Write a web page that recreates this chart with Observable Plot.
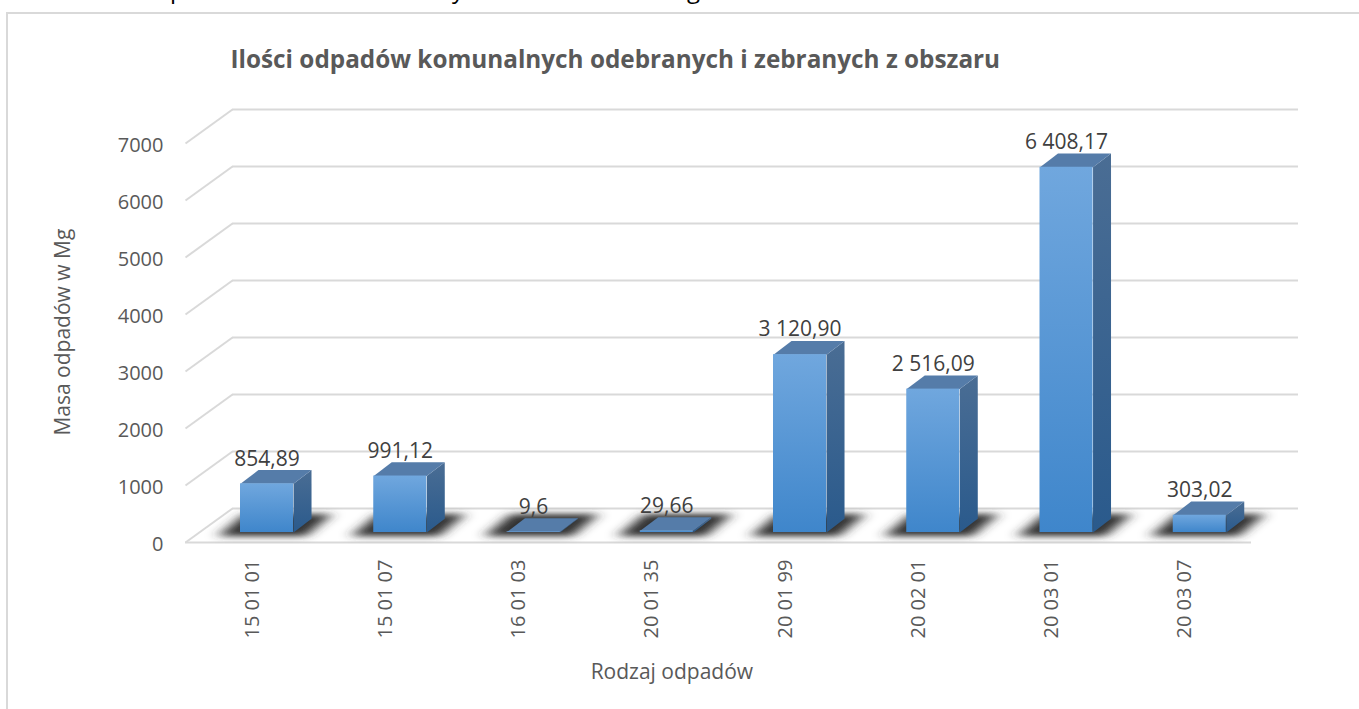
<!DOCTYPE html>
<html lang="pl"><head><meta charset="utf-8">
<script src="https://cdn.jsdelivr.net/npm/d3@7"></script>
<script src="https://cdn.jsdelivr.net/npm/@observablehq/plot@0.6"></script>
<style>
html,body{margin:0;padding:0;background:#fff;width:1359px;height:709px;overflow:hidden;position:relative}
#frame{position:absolute;left:6px;top:12px;right:0;bottom:0;border-top:2px solid #d9d9d9;border-left:2px solid #d9d9d9;pointer-events:none}
#cut{position:absolute;left:0;top:0;width:100%;height:12px;overflow:hidden;font:24px "Open Sans",sans-serif;color:#000}
#cut span{position:absolute;top:-28px}
svg{position:absolute;left:0;top:0;background:transparent}
</style></head><body><div id="chart"></div><div id="frame"></div>
<div id="cut"><span style="left:170px">p</span><span style="left:452px">y</span><span style="left:687px">g</span></div>
<script>
const categories = ["15 01 01","15 01 07","16 01 03","20 01 35","20 01 99","20 02 01","20 03 01","20 03 07"];
const values = [854.89, 991.12, 9.6, 29.66, 3120.90, 2516.09, 6408.17, 303.02];
const valueLabels = ["854,89","991,12","9,6","29,66","3 120,90","2 516,09","6 408,17","303,02"];
const yTicks = [0,1000,2000,3000,4000,5000,6000,7000];
const chartTitle = "Ilości odpadów komunalnych odebranych i zebranych z obszaru";
const xTitle = "Rodzaj odpadów";
const yTitle = "Masa odpadów w Mg";

// perspective offsets, in data units of the two scales
const wallX = 0.3527, wallY = 596;          // floor depth
const barIn = 0.4128, barW = 0.398;         // bar position inside its category
const barBase = 175;                        // bar foot above the front floor edge
const depX = 0.135, depY = 240;             // bar depth

const bars = values.map((v,i)=>({i, v, cat:categories[i], label:valueLabels[i],
  x1:i+barIn, x2:i+barIn+barW, y1:barBase, y2:barBase+v}));
const poly = (f)=>bars.flatMap(b=>f(b).map(([x,y])=>({k:b.i,x,y})));
const side = poly(b=>[[b.x2,b.y1],[b.x2+depX,b.y1+depY],[b.x2+depX,b.y2+depY],[b.x2,b.y2]]);
const top_ = poly(b=>[[b.x1,b.y2],[b.x2,b.y2],[b.x2+depX,b.y2+depY],[b.x1+depX,b.y2+depY]]);
const shadow = poly(b=>[[b.x1-0.17,108],[b.x2+0.09,108],[b.x2+0.29,500],[b.x1+0.03,500]]);
const px = {stroke:"#d9d9d9", strokeWidth:2};
const textFont = '"Open Sans", sans-serif';

const chart = Plot.plot({
  width:1359, height:709,
  marginLeft:185, marginRight:108, marginTop:143, marginBottom:167,
  style:{fontFamily:textFont, background:"transparent"},
  x:{domain:[0,8], axis:null},
  y:{domain:[0,7000]},
  marks:[
    Plot.axisY(yTicks,{tickSize:0, tickPadding:22, fontSize:20, dy:2, color:"#595959", label:null, tickFormat:d=>String(d)}),
    Plot.axisX(categories.map((c,i)=>i+0.5),{tickSize:0, tickPadding:17, fontSize:20, color:"#595959", label:null, tickRotate:-90, tickFormat:d=>categories[d-0.5]}),
    Plot.ruleY(yTicks,{x1:wallX, x2:8+wallX, y:d=>d+wallY, ...px}),
    Plot.link(yTicks,{x1:0, y1:d=>d, x2:wallX, y2:d=>d+wallY, ...px}),
    Plot.ruleY([0],{x1:0, x2:8, ...px}),
    Plot.line(shadow,{x:"x", y:"y", z:"k", fill:"#333333", stroke:"none"}),
    Plot.line(side,{x:"x", y:"y", z:"k", fill:"url(#gradSide)", stroke:"none"}),
    Plot.line(top_,{x:"x", y:"y", z:"k", fill:"#557ca9", stroke:"none"}),
    Plot.rect(bars,{x1:"x1", x2:"x2", y1:"y1", y2:"y2", fill:"url(#gradFront)"}),
    Plot.text(bars,{x:d=>(d.x1+d.x2)/2, y:"y2", text:"label", dy:-25, fontSize:21, fill:"#404040"}),
    Plot.text([chartTitle],{x:0.338, y:8456, text:d=>d, textAnchor:"start", fontSize:24.3, fontWeight:700, fill:"#595959"}),
    Plot.text([xTitle],{x:3.65, y:-2280, text:d=>d, fontSize:21, fill:"#595959"}),
    Plot.text([yTitle],{x:-0.92, y:3690, text:d=>d, rotate:-90, fontSize:21, fill:"#595959"})
  ]
});
const sel = d3.select(chart);
sel.append("defs").html(`
<linearGradient id="gradFront" x1="0" y1="0" x2="0" y2="1"><stop offset="0" stop-color="#70a7de"/><stop offset="1" stop-color="#3f86cb"/></linearGradient>
<linearGradient id="gradSide" x1="0" y1="0" x2="0" y2="1"><stop offset="0" stop-color="#4a6d94"/><stop offset="1" stop-color="#2a5a8c"/></linearGradient>
<filter id="softShadow" x="-5%" y="-60%" width="110%" height="220%"><feGaussianBlur stdDeviation="7 3"/></filter>`);
sel.selectAll("g[fill='#333333']").attr("filter","url(#softShadow)");
document.getElementById("chart").append(chart);
</script></body></html>
